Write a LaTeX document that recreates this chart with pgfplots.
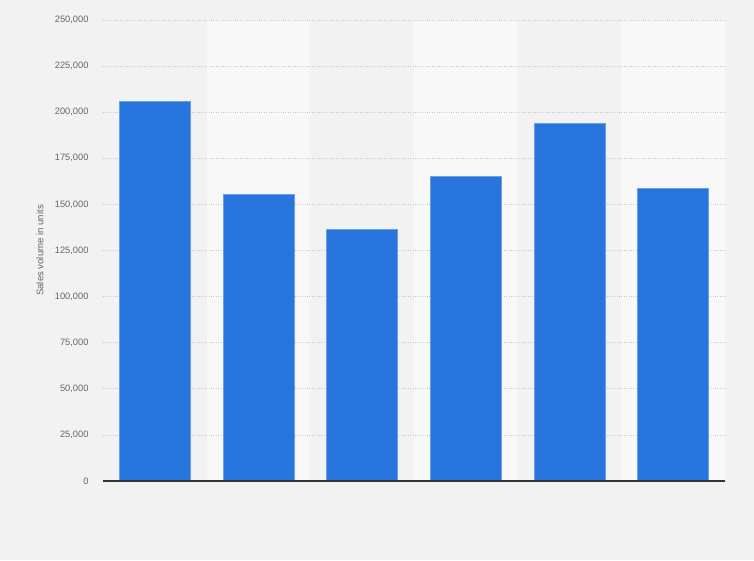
\documentclass[border=0pt]{standalone}
\usepackage{pgfplots}
\pgfplotsset{compat=1.18}
\usepackage{fontspec}
\setmainfont{Liberation Sans}
\definecolor{bg}{HTML}{F2F2F2}
\definecolor{band}{HTML}{F8F8F8}
\definecolor{barblue}{HTML}{2876DD}
\definecolor{txt}{HTML}{666666}
\definecolor{gridc}{HTML}{C8C8C8}
\definecolor{axisc}{HTML}{333333}
\begin{document}
\begin{tikzpicture}
\fill[bg] (0pt,0pt) rectangle (754pt,560pt);
% alternating background bands (columns 2, 4, 6)
\fill[band] (206.667pt,79pt) rectangle (310.333pt,540pt);
\fill[band] (414pt,79pt) rectangle (517.667pt,540pt);
\fill[band] (621.333pt,79pt) rectangle (725pt,540pt);
\begin{axis}[
  at={(103pt,79pt)}, anchor=south west,
  scale only axis,
  width=622pt, height=461pt,
  xmin=-0.5, xmax=5.5,
  ymin=0, ymax=250000,
  ytick={0,25000,...,250000},
  xtick=\empty,
  axis line style={draw=none},
  ymajorgrids,
  major grid style={gridc, dotted, line width=0.7pt},
  ytick style={draw=none},
  scaled y ticks=false,
  yticklabel={\pgfmathprintnumber[fixed, precision=0, 1000 sep={,}]{\tick}},
  yticklabel style={font=\fontsize{9.3}{11}\selectfont, text=txt, /pgf/number format/assume math mode=true, xshift=-11pt},
  ylabel={Sales volume in units},
  ylabel style={at={(axis description cs:0,0.5)}, anchor=center, rotate=0, yshift=63pt, font=\fontsize{9.6}{11}\selectfont, text=txt},
  clip=false,
]
\addplot[ybar, bar width=71pt, fill=barblue, draw=barblue!70!white, line width=0.4pt] coordinates {
(0,206000) (1,155500) (2,136500) (3,165300) (4,194100) (5,158800)
};
\addplot[axisc, line width=1.2pt, mark=none] coordinates {(-0.5,0) (5.5,0)};
\end{axis}
\end{tikzpicture}
\end{document}
